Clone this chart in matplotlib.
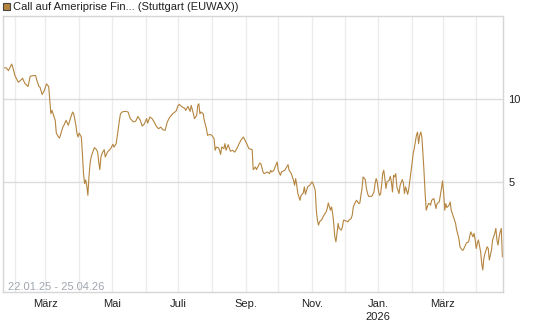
import numpy as np
import pandas as pd
import matplotlib
matplotlib.use("Agg")
import matplotlib.pyplot as plt
import matplotlib.dates as mdates
from matplotlib.patches import Rectangle

plt.rcParams["font.family"] = ["Liberation Sans", "DejaVu Sans"]

# Kursverlauf (gelesen aus dem Chart)
dates_2025 = [
    "01-22", "01-24", "01-26", "01-29", "01-30",
    "02-01", "02-04", "02-06", "02-08", "02-10", "02-13", "02-15", "02-18", "02-20",
    "02-21", "02-23", "02-24", "02-26", "02-28",
    "03-02", "03-04", "03-05", "03-06", "03-07", "03-10", "03-11", "03-13", "03-14",
    "03-17", "03-18", "03-20", "03-22", "03-24", "03-26", "03-27", "03-29", "03-30", "03-31",
    "04-01", "04-03", "04-04", "04-05", "04-06", "04-07", "04-08", "04-09", "04-10",
    "04-11", "04-12", "04-13", "04-15", "04-17", "04-18", "04-19", "04-20", "04-21",
    "04-22", "04-24", "04-25", "04-27", "04-30",
    "05-02", "05-03", "05-05", "05-06", "05-08", "05-09", "05-11", "05-14", "05-16",
    "05-18", "05-21", "05-23", "05-25", "05-27", "05-29", "05-31",
    "06-02", "06-03", "06-05", "06-07", "06-09", "06-11", "06-13", "06-15", "06-17",
    "06-19", "06-21", "06-23", "06-26", "06-29",
    "07-01", "07-02", "07-05", "07-07", "07-08", "07-10", "07-12", "07-13", "07-15",
    "07-16", "07-18", "07-19", "07-20", "07-21", "07-22", "07-24", "07-25", "07-27",
    "07-28", "07-30",
    "08-01", "08-03", "08-04", "08-05", "08-07", "08-08", "08-09", "08-10", "08-12",
    "08-13", "08-14", "08-16", "08-18", "08-20", "08-22", "08-24", "08-26", "08-28", "08-30",
    "09-02", "09-04", "09-07", "09-08", "09-10", "09-11", "09-14", "09-15", "09-17",
    "09-18", "09-21", "09-23", "09-24", "09-25", "09-27", "09-28", "09-30",
    "10-01", "10-03", "10-04", "10-07", "10-10", "10-11", "10-13", "10-15", "10-16",
    "10-17", "10-18", "10-19", "10-21", "10-22", "10-24", "10-25", "10-26", "10-28", "10-30",
    "11-01", "11-02", "11-04", "11-05", "11-06", "11-07", "11-08", "11-10", "11-12",
    "11-14", "11-15", "11-16", "11-18", "11-19", "11-20", "11-21", "11-22", "11-23",
    "11-24", "11-25", "11-26", "11-28", "11-29", "11-30",
    "12-02", "12-04", "12-05", "12-07", "12-08", "12-09", "12-11", "12-12", "12-14",
    "12-15", "12-16", "12-17", "12-18", "12-20", "12-21", "12-22", "12-23", "12-25",
    "12-26", "12-28", "12-29", "12-30", "12-31",
]
values_2025 = [
    11.87, 11.87, 11.70, 12.10, 11.90,
    11.40, 11.00, 11.10, 11.24, 10.94, 10.74, 11.36, 11.40, 11.40,
    11.14, 10.74, 10.70, 10.26, 10.50,
    10.90, 10.74, 9.94, 9.10, 9.30, 8.70, 7.93, 7.69, 7.63,
    8.29, 8.40, 8.70, 8.40, 8.82, 9.20, 9.10, 8.40, 7.90, 7.69,
    7.93, 7.69, 6.69, 5.48, 4.88, 5.10, 4.76, 4.17, 5.28,
    6.08, 6.48, 6.69, 7.05, 6.93, 6.78, 6.18, 5.72, 6.48,
    6.69, 6.93, 6.48, 6.78, 6.99,
    7.25, 7.08, 7.29, 7.73, 8.69, 9.10, 9.22, 9.24, 9.20,
    8.80, 8.60, 8.65, 8.93, 8.73, 8.35, 8.49,
    8.80, 8.53, 8.90, 8.80, 8.59, 8.33, 8.19, 8.29, 8.13,
    8.09, 8.60, 8.86, 9.10, 9.25,
    9.60, 9.66, 9.49, 9.43, 9.30, 9.54, 9.24, 9.60, 9.10,
    8.80, 8.99, 9.60, 9.70, 9.10, 9.20, 9.10, 8.69, 8.19,
    7.79, 7.85,
    7.79, 7.59, 6.89, 7.08, 7.05, 6.89, 6.64, 7.09, 6.99,
    7.29, 6.89, 7.23, 6.83, 6.89, 6.78, 6.99, 7.29, 7.53, 7.69,
    7.29, 6.99, 6.93, 5.72, 5.88, 5.72, 6.12, 6.08, 5.58,
    5.48, 5.58, 5.48, 5.68, 5.58, 5.68, 5.88, 6.18,
    5.68, 5.38, 5.58, 5.68, 6.02, 5.68, 5.48, 5.08, 4.78,
    5.18, 4.78, 4.28, 3.87, 4.17, 4.31, 4.68, 4.23, 4.68, 4.78,
    4.98, 4.88, 4.48, 3.27, 2.67, 2.37, 2.57, 2.71, 2.97,
    3.17, 3.37, 3.71, 3.27, 3.47, 3.07, 2.47, 1.66, 1.36,
    1.87, 2.47, 2.17, 2.07, 2.27, 2.67,
    2.63, 2.57, 2.67, 2.77, 2.97, 3.47, 3.77, 3.87, 3.67,
    3.71, 4.17, 4.58, 5.28, 5.12, 4.60, 4.30, 4.11, 4.11,
    4.11, 4.37, 4.88, 5.18, 4.98,
]
dates_2026 = [
    "01-01", "01-02", "01-03", "01-04", "01-05", "01-06", "01-07", "01-08", "01-09",
    "01-11", "01-12", "01-13", "01-14", "01-15", "01-16", "01-17", "01-18", "01-20",
    "01-21", "01-23", "01-24", "01-25", "01-26", "01-28", "01-29", "01-30", "01-31",
    "02-01", "02-02", "02-03", "02-04", "02-05", "02-06", "02-07", "02-08", "02-09",
    "02-10", "02-11", "02-12", "02-13", "02-14", "02-16", "02-17", "02-18", "02-19",
    "02-21", "02-22", "02-23", "02-24", "02-26", "02-27", "02-28",
    "03-01", "03-02", "03-03", "03-04", "03-05", "03-07", "03-08", "03-09", "03-10",
    "03-11", "03-13", "03-14", "03-16", "03-17", "03-19", "03-20", "03-22", "03-23",
    "03-25", "03-26", "03-27", "03-29", "03-30", "03-31",
    "04-01", "04-02", "04-03", "04-05", "04-06", "04-07", "04-08", "04-09", "04-10",
    "04-11", "04-12", "04-13", "04-15", "04-16", "04-18", "04-19", "04-20", "04-21",
    "04-22", "04-23", "04-24", "04-25",
]
values_2026 = [
    4.48, 4.17, 4.23, 4.78, 5.48, 5.68, 5.18, 4.58, 4.98,
    5.08, 5.32, 4.98, 4.37, 5.38, 5.28, 5.48, 4.68, 4.28,
    4.78, 5.12, 4.92, 4.28, 4.68, 4.23, 4.58, 5.08, 5.58,
    6.12, 6.69, 6.99, 7.39, 7.79, 7.99, 7.29, 7.79, 7.99,
    7.69, 6.69, 5.58, 4.28, 3.27, 3.67, 3.67, 3.57, 3.87,
    3.98, 3.67, 3.37, 3.67, 3.77, 4.17, 4.58,
    5.04, 4.37, 3.27, 3.67, 3.43, 3.57, 3.77, 3.27, 3.07,
    2.87, 2.47, 2.07, 1.57, 1.06, 0.86, 0.86, 1.16, 1.30,
    1.36, 1.70, 1.96, 1.66, 1.87, 1.47,
    0.96, 1.27, 1.47, 0.76, 0.06, -0.34, 0.36, 0.66, 0.86,
    1.06, 0.96, 0.26, 0.86, 1.47, 1.87, 2.17, 1.47, 1.16,
    1.66, 1.96, 2.17, 0.46,
]

legend_label = "Call auf Ameriprise Fin... (Stuttgart (EUWAX))"
range_label = "22.01.25 - 25.04.26"
month_names = {1: "Jan.", 3: "März", 5: "Mai", 7: "Juli", 9: "Sep.", 11: "Nov."}

dates = pd.to_datetime(["2025-" + d for d in dates_2025] + ["2026-" + d for d in dates_2026])
values = np.array(values_2025 + values_2026)

line_color = "#b5853f"
W, H = 545, 327
fig = plt.figure(figsize=(W / 100, H / 100), dpi=100)
ax = fig.add_axes([3 / W, 1 - 292 / H, 500 / W, 276 / H])

ax.plot(dates, values, color=line_color, lw=0.8)

ax.set_xlim(pd.Timestamp("2025-01-21"), pd.Timestamp("2026-04-25 14:00"))
ax.set_ylim(-1.67, 15)

# Achsen / Raster
for s in ax.spines.values():
    s.set_color("#d6d6d6")
    s.set_linewidth(1.0)

ax.yaxis.tick_right()
ax.set_yticks([5, 10])
ax.set_yticklabels(["5", "10"])
ax.tick_params(axis="y", length=0, pad=4, labelsize=8, labelcolor="#222222")
ax.grid(axis="y", color="#dcdcdc", lw=1.0)

ax.xaxis.set_major_locator(mdates.MonthLocator(bymonth=[1, 3, 5, 7, 9, 11]))
ax.xaxis.set_minor_locator(mdates.MonthLocator())


def fmt(x, pos=None):
    d = mdates.num2date(x)
    lab = month_names[d.month]
    if d.month == 1:
        lab += "\n" + str(d.year)
    return lab


ax.xaxis.set_major_formatter(plt.FuncFormatter(fmt))
ax.tick_params(axis="x", which="both", length=0, pad=5, labelsize=8, labelcolor="#222222")
for lab in ax.get_xticklabels():
    lab.set_linespacing(1.4)
ax.grid(axis="x", which="both", color="#ececec", lw=1.0)
ax.set_axisbelow(True)

ax.text(5 / 500, 5.5 / 276, range_label, transform=ax.transAxes, fontsize=8,
        color="#a0a7b0", ha="left", va="center")

# Legende oben links
fig.add_artist(Rectangle((3 / W, 1 - 10 / H), 7 / W, 7 / H, transform=fig.transFigure,
                         facecolor=line_color, edgecolor="#444444", lw=0.8))
fig.text(13 / W, 1 - 6.5 / H, legend_label, fontsize=8, color="#222222",
         ha="left", va="center")

fig.savefig("out.png", dpi=100)
